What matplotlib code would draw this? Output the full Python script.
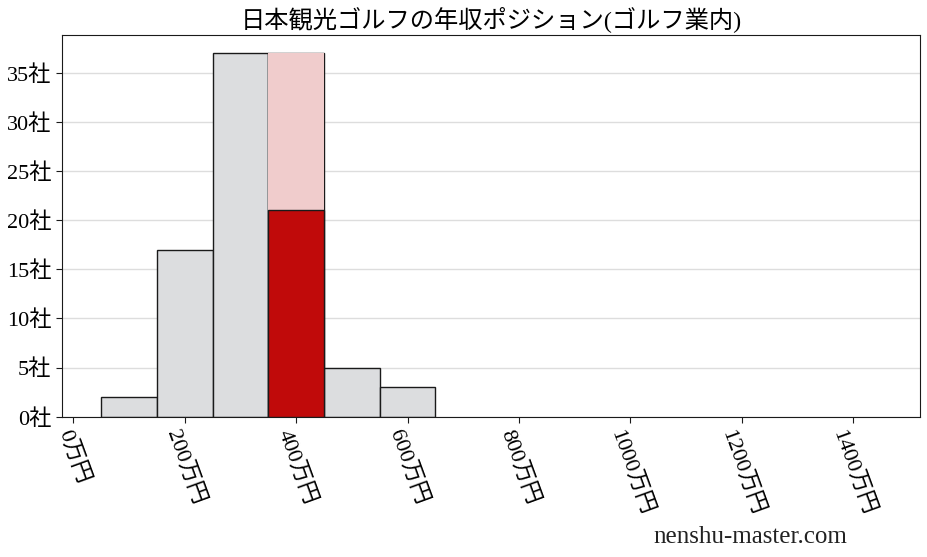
import matplotlib
matplotlib.use("Agg")
import matplotlib.pyplot as plt

plt.rcParams['font.family'] = ['Liberation Serif', 'Noto Sans CJK JP', 'DejaVu Sans']

# histogram data (bin centers in 万円, company counts)
bin_centers = [100, 200, 300, 400, 500, 600]
counts = [2, 17, 37, 37, 5, 3]
bin_width = 100

# highlighted bin: company position
highlight_center = 400
highlight_total = 37
highlight_count = 21

title = "日本観光ゴルフの年収ポジション(ゴルフ業内)"
xticks = [0, 200, 400, 600, 800, 1000, 1200, 1400]
yticks = [0, 5, 10, 15, 20, 25, 30, 35]

fig = plt.figure(figsize=(9.28, 5.57), dpi=100)
ax = fig.add_axes([62.3 / 928, 1 - 416.7 / 557, (920 - 62.3) / 928, (416.7 - 35) / 557])

ax.grid(axis='y', color='#dddddd', linewidth=1, zorder=0)
ax.set_axisbelow(True)

ax.bar(bin_centers, counts, width=bin_width, color='#dcdddf',
       edgecolor='#1a1a1a', linewidth=1, zorder=2)
ax.bar([highlight_center], [highlight_total], width=bin_width, color='#f0cccc',
       edgecolor='none', zorder=3)
ax.bar([highlight_center], [highlight_count], width=bin_width, color='#c00a0a',
       edgecolor='#1a1a1a', linewidth=1, zorder=4)

ax.set_xlim(-19.7, 1520)
ax.set_ylim(0, 38.85)
ax.set_xticks(xticks)
ax.set_xticklabels([f"{v}万円" for v in xticks], rotation=-70, fontsize=16)
ax.set_yticks(yticks)
ax.set_yticklabels([f"{v}社" for v in yticks], fontsize=16)
ax.tick_params(axis='both', length=4, color='#1a1a1a', pad=4)
for s in ax.spines.values():
    s.set_color('#1a1a1a')

ax.set_title(title, fontsize=17.5, pad=6)
fig.text(847 / 928, 1 - 537 / 557, "nenshu-master.com", ha='right', va='center',
         fontsize=18, color='#222222')

fig.savefig("out.png", dpi=100)
